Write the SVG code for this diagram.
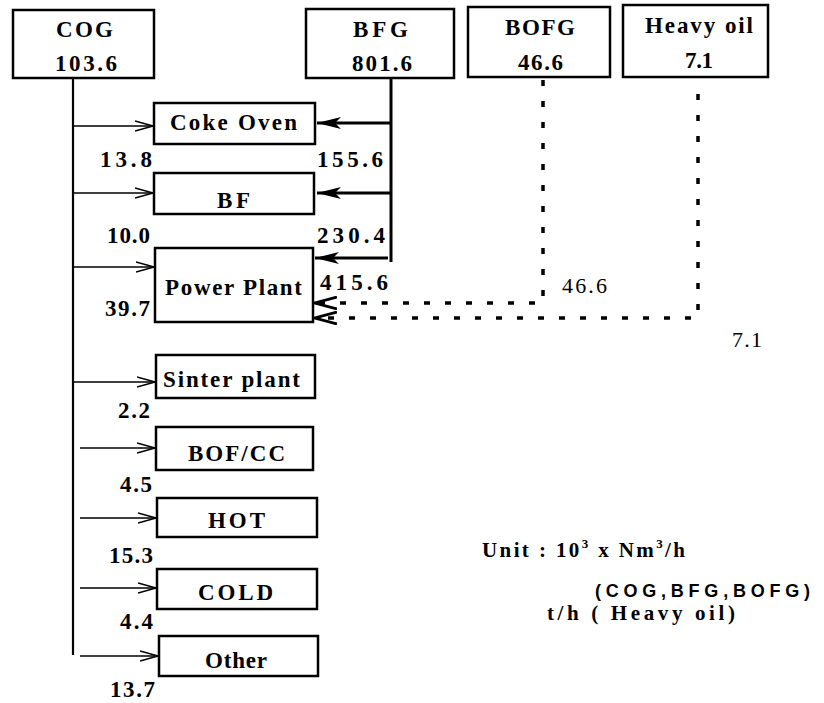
<svg xmlns="http://www.w3.org/2000/svg" width="824" height="703" viewBox="0 0 824 703">
<style>
.box{fill:#fff;stroke:#000;stroke-width:2.5}
.t{font-family:"Liberation Serif","Times New Roman",serif;font-weight:bold;font-size:23px;fill:#000}
.n{font-family:"Liberation Serif","Times New Roman",serif;font-weight:normal;font-size:22px;fill:#000}
.s{font-family:"Liberation Sans",Arial,sans-serif;font-weight:bold;font-size:18px;fill:#000}
.thin{stroke:#000;stroke-width:1.6;fill:none}
.thick{stroke:#000;stroke-width:3;fill:none}
.dash{stroke:#000;stroke-width:3.5;fill:none;stroke-dasharray:6 15}
</style>
<defs>
<marker id="open" markerUnits="userSpaceOnUse" markerWidth="20" markerHeight="12" refX="18" refY="6" orient="auto">
<path d="M0,1 L18,6 L0,11" fill="none" stroke="#000" stroke-width="1.6"/>
</marker>
<marker id="solid" markerUnits="userSpaceOnUse" markerWidth="26" markerHeight="14" refX="24" refY="7" orient="auto">
<path d="M0,1 L24,7 L0,13 L6,7 Z" fill="#000"/>
</marker>
<marker id="dopen" markerUnits="userSpaceOnUse" markerWidth="24" markerHeight="14" refX="22" refY="7" orient="auto">
<path d="M0,1 L22,7 L0,13" fill="none" stroke="#000" stroke-width="2.8"/>
</marker>
</defs>

<g id="connectors">
<line class="thin" x1="73" y1="78" x2="73" y2="655" style="stroke-width:2.2"/>
<line class="thin" x1="73" y1="126" x2="153" y2="126" marker-end="url(#open)"/>
<line class="thin" x1="73" y1="193" x2="153" y2="193" marker-end="url(#open)"/>
<line class="thin" x1="73" y1="267" x2="154" y2="267" marker-end="url(#open)"/>
<line class="thin" x1="73" y1="382" x2="155" y2="382" marker-end="url(#open)"/>
<line class="thin" x1="80" y1="448" x2="155" y2="448" marker-end="url(#open)"/>
<line class="thin" x1="80" y1="518" x2="156" y2="518" marker-end="url(#open)"/>
<line class="thin" x1="80" y1="588" x2="156" y2="588" marker-end="url(#open)"/>
<line class="thin" x1="80" y1="656" x2="158" y2="656" marker-end="url(#open)"/>
<line class="thick" x1="391" y1="78" x2="391" y2="262"/>
<line class="thick" x1="391" y1="123" x2="317" y2="123" marker-end="url(#solid)"/>
<line class="thick" x1="391" y1="193" x2="317" y2="193" marker-end="url(#solid)"/>
<line class="thick" x1="388" y1="258" x2="315" y2="258" marker-end="url(#solid)"/>
<path class="dash" d="M543,80 V303 H315" marker-end="url(#dopen)"/>
<path class="dash" d="M698,94 V318 H315" marker-end="url(#dopen)"/>
</g>

<g id="cog"><rect class="box" x="13" y="10" width="141" height="68"/>
<text class="t" x="56" y="37" textLength="57" lengthAdjust="spacing">COG</text>
<text class="t" x="55" y="71" textLength="62" lengthAdjust="spacing">103.6</text></g>
<g id="bfg"><rect class="box" x="306" y="9" width="148" height="69"/>
<text class="t" x="353" y="37" textLength="55" lengthAdjust="spacing">BFG</text>
<text class="t" x="352" y="71" textLength="60" lengthAdjust="spacing">801.6</text></g>
<g id="bofg"><rect class="box" x="468" y="7" width="142" height="70"/>
<text class="t" x="505" y="35" textLength="70" lengthAdjust="spacing">BOFG</text>
<text class="t" x="518" y="70" textLength="45" lengthAdjust="spacing">46.6</text></g>
<g id="heavyoil"><rect class="box" x="623" y="5" width="145" height="72"/>
<text class="t" x="645" y="33" textLength="108" lengthAdjust="spacing">Heavy oil</text>
<text class="t" x="685" y="68" textLength="28" lengthAdjust="spacing">7.1</text></g>

<g id="cokeoven"><rect class="box" x="154" y="103" width="161" height="41"/>
<text class="t" x="170" y="130" textLength="127" lengthAdjust="spacing">Coke Oven</text></g>
<g id="bf"><rect class="box" x="154" y="173" width="160" height="41"/>
<text class="t" x="217" y="208" textLength="33" lengthAdjust="spacing">BF</text></g>
<g id="powerplant"><rect class="box" x="155" y="248" width="158" height="74"/>
<text class="t" x="165" y="295" textLength="137" lengthAdjust="spacing">Power Plant</text></g>
<g id="sinter"><rect class="box" x="156" y="355" width="159" height="43"/>
<text class="t" x="163" y="387" textLength="137" lengthAdjust="spacing">Sinter plant</text></g>
<g id="bofcc"><rect class="box" x="156" y="427" width="157" height="43"/>
<text class="t" x="188" y="461" textLength="97" lengthAdjust="spacing">BOF/CC</text></g>
<g id="hot"><rect class="box" x="157" y="498" width="160" height="39"/>
<text class="t" x="208" y="528" textLength="57" lengthAdjust="spacing">HOT</text></g>
<g id="cold"><rect class="box" x="157" y="569" width="160" height="40"/>
<text class="t" x="198" y="600" textLength="75" lengthAdjust="spacing">COLD</text></g>
<g id="other"><rect class="box" x="159" y="636" width="159" height="40"/>
<text class="t" x="205" y="668" textLength="62" lengthAdjust="spacing">Other</text></g>

<g id="labels">
<text class="t" x="100" y="167" textLength="52" lengthAdjust="spacing">13.8</text>
<text class="t" x="317" y="167" textLength="66" lengthAdjust="spacing">155.6</text>
<text class="t" x="107" y="243" textLength="43" lengthAdjust="spacing">10.0</text>
<text class="t" x="317" y="243" textLength="68" lengthAdjust="spacing">230.4</text>
<text class="t" x="320" y="290" textLength="68" lengthAdjust="spacing">415.6</text>
<text class="t" x="105" y="316" textLength="45" lengthAdjust="spacing">39.7</text>
<text class="n" x="562" y="293" textLength="45" lengthAdjust="spacing">46.6</text>
<text class="n" x="732" y="347" textLength="30" lengthAdjust="spacing">7.1</text>
<text class="t" x="118" y="418" textLength="32" lengthAdjust="spacing">2.2</text>
<text class="t" x="120" y="492" textLength="32" lengthAdjust="spacing">4.5</text>
<text class="t" x="109" y="563" textLength="44" lengthAdjust="spacing">15.3</text>
<text class="t" x="120" y="629" textLength="33" lengthAdjust="spacing">4.4</text>
<text class="t" x="110" y="697" textLength="45" lengthAdjust="spacing">13.7</text>
</g>

<g id="unit">
<text class="t" x="482" y="557" style="font-size:21px" textLength="203" lengthAdjust="spacing">Unit : 10<tspan dy="-9" style="font-size:13px">3</tspan><tspan dy="9"> x Nm</tspan><tspan dy="-9" style="font-size:13px">3</tspan><tspan dy="9">/h</tspan></text>
<text class="s" x="595" y="597" textLength="215" lengthAdjust="spacing">(COG,BFG,BOFG)</text>
<text class="t" x="547" y="620" style="font-size:21px" textLength="188" lengthAdjust="spacing">t/h  ( Heavy oil)</text>
</g>
</svg>
